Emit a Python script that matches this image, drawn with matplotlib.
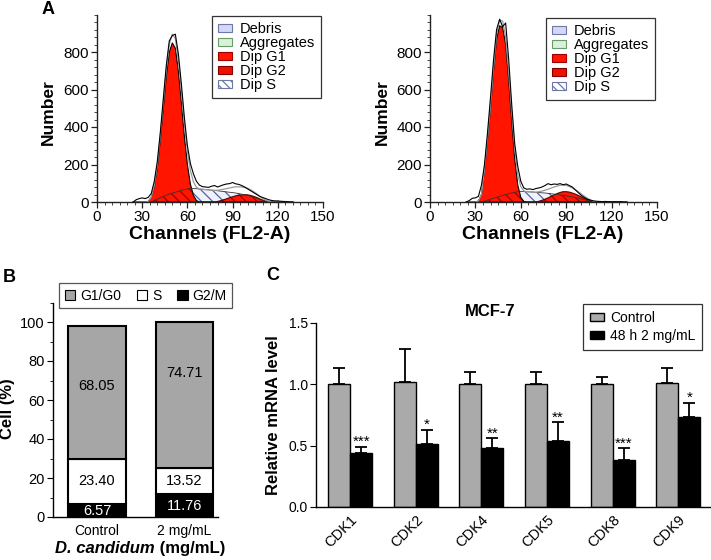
import numpy as np
import matplotlib.pyplot as plt
from matplotlib.patches import Patch
from matplotlib.ticker import MultipleLocator, FormatStrFormatter

plt.rcParams['font.family'] = ['Liberation Sans', 'DejaVu Sans']
plt.rcParams['hatch.linewidth'] = 0.9

W, H = 711, 560


def box(x0, y0, x1, y1):
    # pixel box (top-left origin) -> figure rect
    return [x0 / W, 1 - y1 / H, (x1 - x0) / W, (y1 - y0) / H]


def fxy(x, y):
    return x / W, 1 - y / H


# ---- A: DNA content histograms, counts read every 2 channels (24..130)
channels = np.arange(24, 131, 2)

ctrl_raw = [0, 12, 18, 22, 18, 25, 45, 110, 215, 370,
            550, 730, 860, 888, 895, 790, 630, 450, 300, 205,
            150, 110, 90, 82, 80, 78, 84, 88, 80, 86,
            92, 96, 98, 104, 97, 94, 88, 80, 70, 60,
            50, 40, 30, 24, 18, 12, 8, 6, 6, 4,
            3, 2, 0, 0]
ctrl_g1 = [0, 0, 0, 0, 0, 3, 25, 80, 180, 330,
           500, 670, 800, 848, 820, 700, 530, 350, 200, 95,
           35, 8, 0, 0, 0, 0, 0, 0, 0, 0,
           0, 0, 0, 0, 0, 0, 0, 0, 0, 0,
           0, 0, 0, 0, 0, 0, 0, 0, 0, 0,
           0, 0, 0, 0]
ctrl_s = [0, 0, 0, 0, 0, 0, 0, 8, 15, 22,
          30, 36, 42, 47, 52, 57, 62, 66, 70, 73,
          72, 71, 69, 68, 66, 65, 63, 62, 60, 58,
          56, 54, 52, 50, 48, 45, 42, 38, 35, 30,
          25, 20, 14, 9, 5, 2, 0, 0, 0, 0,
          0, 0, 0, 0]
ctrl_g2 = [0, 0, 0, 0, 0, 0, 0, 0, 0, 0,
           0, 0, 0, 0, 0, 0, 0, 0, 0, 0,
           0, 0, 0, 0, 0, 0, 0, 0, 3, 7,
           12, 17, 23, 28, 33, 36, 38, 39, 38, 35,
           30, 24, 17, 10, 5, 2, 0, 0, 0, 0,
           0, 0, 0, 0]

trt_raw = [0, 8, 20, 22, 30, 90, 200, 370, 560, 760,
           920, 975, 935, 955, 760, 520, 310, 190, 110, 75,
           68, 70, 66, 72, 75, 80, 88, 98, 92, 96,
           94, 98, 92, 96, 88, 80, 65, 50, 35, 24,
           15, 10, 6, 4, 3, 2, 3, 2, 1, 2,
           1, 2, 0, 0]
trt_g1 = [0, 0, 0, 0, 5, 40, 170, 330, 500, 700,
          870, 940, 930, 840, 650, 430, 230, 90, 25, 3,
          0, 0, 0, 0, 0, 0, 0, 0, 0, 0,
          0, 0, 0, 0, 0, 0, 0, 0, 0, 0,
          0, 0, 0, 0, 0, 0, 0, 0, 0, 0,
          0, 0, 0, 0]
trt_s = [0, 0, 0, 0, 0, 0, 5, 10, 15, 20,
         25, 30, 35, 40, 44, 48, 52, 55, 57, 56,
         55, 54, 53, 52, 51, 49, 48, 46, 44, 42,
         40, 38, 35, 33, 30, 27, 24, 20, 16, 12,
         8, 5, 2, 0, 0, 0, 0, 0, 0, 0,
         0, 0, 0, 0]
trt_g2 = [0, 0, 0, 0, 0, 0, 0, 0, 0, 0,
          0, 0, 0, 0, 0, 0, 0, 0, 0, 0,
          0, 0, 0, 0, 4, 9, 15, 22, 30, 38,
          45, 51, 55, 55, 53, 48, 42, 35, 27, 19,
          12, 6, 2, 0, 0, 0, 0, 0, 0, 0,
          0, 0, 0, 0]

hist_labels = ['Debris', 'Aggregates', 'Dip G1', 'Dip G2', 'Dip S']

# ---- B: cell cycle distribution (%)
groups_b = ['Control', '2 mg/mL']
g1g0 = [68.05, 74.71]
s_phase = [23.40, 13.52]
g2m = [6.57, 11.76]

# ---- C: relative mRNA level, MCF-7
genes = ['CDK1', 'CDK2', 'CDK4', 'CDK5', 'CDK8', 'CDK9']
ctrl_mean = [1.00, 1.02, 1.00, 1.00, 1.00, 1.01]
ctrl_sd = [0.13, 0.27, 0.10, 0.10, 0.06, 0.12]
trt_mean = [0.44, 0.51, 0.48, 0.54, 0.38, 0.73]
trt_sd = [0.05, 0.12, 0.08, 0.15, 0.10, 0.12]
stars = ['***', '*', '**', '**', '***', '*']

RED = '#ff1500'
HATCH_BLUE = '#5062ae'

fig = plt.figure(figsize=(W / 100, H / 100), dpi=100)


def draw_hist(rect, raw, g1, s, g2, leg_xy):
    ax = fig.add_axes(rect)
    raw, g1, s, g2 = map(np.asarray, (raw, g1, s, g2))
    ax.fill_between(channels, 0, s, facecolor='#f1f3fb', edgecolor=HATCH_BLUE,
                    hatch='\\\\\\', linewidth=0)
    ax.fill_between(channels, 0, g1, facecolor=RED, edgecolor='none')
    ax.fill_between(channels, 0, g2, facecolor=RED, edgecolor='none')
    under = np.minimum(s, np.maximum(g1, g2))
    ax.fill_between(channels, 0, under, facecolor='none', edgecolor='#a00000',
                    hatch='\\\\\\', linewidth=0)
    ax.plot(channels, g1, color='black', lw=0.8)
    ax.plot(channels, g2, color='#5a0000', lw=0.8)
    ax.plot(channels, s, color='#3a3030', lw=0.6)
    ax.plot(channels, g1 + s + g2, color='#9a9a9a', lw=0.9)
    ax.plot(channels, raw, color='black', lw=0.8)

    ax.set_xlim(0, 150)
    ax.set_ylim(0, 1000)
    ax.set_xticks(range(0, 151, 30))
    ax.set_yticks(range(0, 801, 200))
    ax.xaxis.set_minor_locator(MultipleLocator(5))
    ax.yaxis.set_minor_locator(MultipleLocator(40))
    for sp in ['top', 'right']:
        ax.spines[sp].set_visible(False)
    for sp in ['left', 'bottom']:
        ax.spines[sp].set_linewidth(1.0)
        ax.spines[sp].set_color('#222222')
    ax.tick_params(which='major', length=4, width=0.9, labelsize=11, pad=2,
                   color='#222222')
    ax.tick_params(which='minor', length=2, width=0.7, color='#444444')

    handles = [
        Patch(facecolor='#d4d8f4', edgecolor='#6c78a8', lw=0.8),
        Patch(facecolor='#d8f2d8', edgecolor='#6a9a6a', lw=0.8),
        Patch(facecolor=RED, edgecolor='#a00000', lw=0.8),
        Patch(facecolor='#f01000', edgecolor='#800000', lw=0.8),
        Patch(facecolor='white', edgecolor='#6c78a8', hatch='\\\\\\\\', lw=0.8),
    ]
    leg = ax.legend(handles, hist_labels, loc='upper left',
                    bbox_to_anchor=fxy(*leg_xy), bbox_transform=fig.transFigure,
                    fontsize=10.5, handlelength=1.0, handleheight=0.45,
                    handletextpad=0.5, labelspacing=0.0, borderpad=0.4,
                    borderaxespad=0, fancybox=False, framealpha=1)
    leg.get_frame().set_edgecolor('#333333')
    leg.get_frame().set_linewidth(0.9)
    return ax


draw_hist(box(97, 14.5, 323, 202), ctrl_raw, ctrl_g1, ctrl_s, ctrl_g2, (212, 16))
draw_hist(box(430, 14.5, 657, 202), trt_raw, trt_g1, trt_s, trt_g2, (546, 18))

for cx in (48, 382):
    fig.text(*fxy(cx, 112), 'Number', rotation=90, ha='center', va='center',
             fontsize=12.5, fontweight='bold')
for cx in (210, 543):
    fig.text(*fxy(cx, 234), 'Channels (FL2-A)', ha='center', va='center',
             fontsize=14, fontweight='bold')

# ---- panel B
axb = fig.add_axes(box(53, 302.5, 218, 517))
xb = np.arange(len(groups_b))
g2m_a = np.array(g2m)
s_a = np.array(s_phase)
g1_a = np.array(g1g0)
bw = 0.66
axb.bar(xb, g2m_a, bw, color='black', edgecolor='black', lw=1.5)
axb.bar(xb, s_a, bw, bottom=g2m_a, color='white', edgecolor='black', lw=1.5)
axb.bar(xb, g1_a, bw, bottom=g2m_a + s_a, color='#a6a6a6', edgecolor='black', lw=1.5)
g1_label_y = [67, 74]
for i in range(len(groups_b)):
    axb.text(xb[i], g2m_a[i] / 2, f'{g2m[i]:.2f}', color='white', ha='center',
             va='center', fontsize=10.5)
    axb.text(xb[i], g2m_a[i] + s_a[i] / 2, f'{s_phase[i]:.2f}', ha='center',
             va='center', fontsize=10.5)
    axb.text(xb[i], g1_label_y[i], f'{g1g0[i]:.2f}', ha='center', va='center',
             fontsize=10.5)
axb.set_xlim(-0.503, 1.383)
axb.set_ylim(0, 110)
axb.set_yticks(range(0, 101, 20))
axb.yaxis.set_minor_locator(MultipleLocator(10))
axb.set_xticks(xb)
axb.set_xticklabels(groups_b)
for sp in ['top', 'right']:
    axb.spines[sp].set_visible(False)
for sp in ['left', 'bottom']:
    axb.spines[sp].set_linewidth(1.0)
axb.tick_params(axis='y', which='major', length=4, labelsize=10.5, pad=2)
axb.tick_params(axis='y', which='minor', length=2)
axb.tick_params(axis='x', length=0, labelsize=10, pad=5)

leg_b = axb.legend([Patch(facecolor='#a6a6a6', edgecolor='black', lw=0.8),
                    Patch(facecolor='white', edgecolor='black', lw=0.8),
                    Patch(facecolor='black', edgecolor='black', lw=0.8)],
                   ['G1/G0', 'S', 'G2/M'], ncol=3, loc='upper left',
                   bbox_to_anchor=fxy(59, 283), bbox_transform=fig.transFigure,
                   fontsize=10, handlelength=0.75, handleheight=0.72,
                   handletextpad=0.35, columnspacing=1.15, borderpad=0.4,
                   borderaxespad=0, fancybox=False, framealpha=1)
leg_b.get_frame().set_edgecolor('#555555')
leg_b.get_frame().set_linewidth(0.9)

fig.text(*fxy(8, 409), 'Cell (%)', rotation=90, ha='center', va='center',
         fontsize=12, fontweight='bold')
t1 = fig.text(*fxy(55, 553), 'D. candidum', ha='left', va='baseline',
              fontsize=12, fontweight='bold', style='italic')
axb.annotate(' (mg/mL)', xy=(1, 0), xycoords=t1, va='bottom', ha='left',
             fontsize=12, fontweight='bold', annotation_clip=False)

# ---- panel C
axc = fig.add_axes(box(316, 323, 710, 507))
xc = np.arange(len(genes))
cw = 0.335
zeros = np.zeros(len(genes))
axc.bar(xc - cw / 2, ctrl_mean, cw, color='#aaaaaa', edgecolor='black', lw=1.0,
        label='Control')
axc.bar(xc + cw / 2, trt_mean, cw, color='black', edgecolor='black', lw=1.0,
        label='48 h 2 mg/mL')
axc.errorbar(xc - cw / 2, ctrl_mean, yerr=[zeros, ctrl_sd], fmt='none',
             ecolor='black', elinewidth=1.3, capsize=4, capthick=1.3)
axc.errorbar(xc + cw / 2, trt_mean, yerr=[zeros, trt_sd], fmt='none',
             ecolor='black', elinewidth=1.3, capsize=4, capthick=1.3)
for i in range(len(genes)):
    axc.text(xc[i] + cw / 2, trt_mean[i] + trt_sd[i] + 0.005, stars[i],
             ha='center', va='baseline', fontsize=11)
axc.set_xlim(-0.52, 5.48)
axc.set_ylim(0, 1.5)
axc.set_yticks([0, 0.5, 1.0, 1.5])
axc.yaxis.set_major_formatter(FormatStrFormatter('%.1f'))
axc.set_xticks(xc)
axc.set_xticklabels(genes, rotation=45, ha='right', va='top',
                    rotation_mode='anchor')
for sp in ['top', 'right']:
    axc.spines[sp].set_visible(False)
for sp in ['left', 'bottom']:
    axc.spines[sp].set_linewidth(1.0)
axc.tick_params(axis='y', length=4, labelsize=10, pad=2)
axc.tick_params(axis='x', length=0, labelsize=10.5, pad=4)

leg_c = axc.legend(loc='upper left', bbox_to_anchor=fxy(583, 304),
                   bbox_transform=fig.transFigure, fontsize=10,
                   handlelength=1.0, handleheight=0.55, handletextpad=0.45,
                   labelspacing=0.3, borderpad=0.5, borderaxespad=0,
                   fancybox=False, framealpha=1)
leg_c.get_frame().set_edgecolor('#333333')
leg_c.get_frame().set_linewidth(0.9)

fig.text(*fxy(490, 311), 'MCF-7', ha='center', va='center', fontsize=12,
         fontweight='bold')
fig.text(*fxy(273, 415), 'Relative mRNA level', rotation=90, ha='center',
         va='center', fontsize=12, fontweight='bold')

# panel letters
for letter, (lx, ly) in zip('ABC', [(48, 10), (9, 277), (273, 275)]):
    fig.text(*fxy(lx, ly), letter, ha='center', va='center', fontsize=13,
             fontweight='bold')

fig.savefig('out.png', dpi=100)
